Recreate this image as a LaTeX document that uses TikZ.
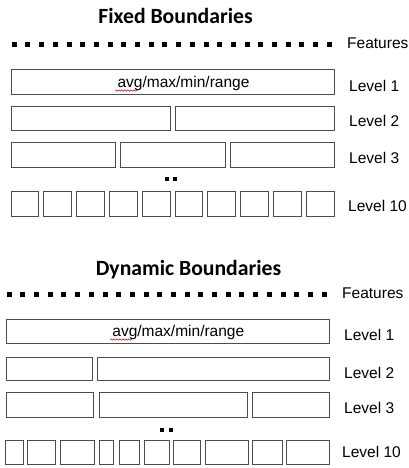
\documentclass[tikz,border=0pt]{standalone}
\usepackage{fontspec}
\setmainfont{Liberation Sans}
\newfontfamily\titlefont{Carlito}
\usetikzlibrary{decorations.pathmorphing}
\begin{document}
\begin{tikzpicture}[x=1pt,y=-1pt,
  box/.style={draw=black!70, line width=0.9pt},
  lbl/.style={anchor=base west, inner sep=0pt, font=\fontsize{15.5}{18}\selectfont},
  boxtxt/.style={anchor=base, inner sep=0pt, font=\fontsize{15.5}{18}\selectfont},
  ttl/.style={anchor=base, inner sep=0pt, font=\titlefont\bfseries\fontsize{21.7}{26}\selectfont},
  sqr/.style={fill=black},
  squig/.style={draw=red!80!black, line width=0.5pt, decorate, decoration={snake, segment length=3pt, amplitude=0.7pt}}]
\useasboundingbox (0,0) rectangle (409,468);

% ---------------- Fixed Boundaries ----------------
\node[ttl] (t1) at (175.5,24) {Fixed Boundaries};
\foreach \i in {0,...,23} \fill[sqr] ({11.7+13.7*\i},42.5) rectangle +(5,5);
\node[lbl] (f1) at (347,48.5) {Features};

\draw[box] (11,69) rectangle (334,94);
\node[boxtxt] (a1) at (183.5,87.5) {avg/max/min/range};
\draw[squig] (115,90.5) -- (137,90.5);
\node[lbl] (l11) at (349,91.5) {Level 1};

\draw[box] (11,106) rectangle (170,130);
\draw[box] (175,106) rectangle (334,130);
\node[lbl] (l12) at (349,127) {Level 2};

\draw[box] (11,142) rectangle (115,167);
\draw[box] (120,142) rectangle (225,167);
\draw[box] (230,142) rectangle (334,167);
\node[lbl] (l13) at (349,163) {Level 3};

\fill[sqr] (164.5,177) rectangle +(4,4);
\fill[sqr] (173,177) rectangle +(4,4);

\foreach \i in {0,...,9} \draw[box] ({11+32.8*\i},191) rectangle +(27.8,25);
\node[lbl] (l110) at (348,211.5) {Level 10};

% ---------------- Dynamic Boundaries ----------------
\node[ttl] (t2) at (188.5,275.5) {Dynamic Boundaries};
\foreach \i in {0,...,23} \fill[sqr] ({6.7+13.69*\i},291.5) rectangle +(5,5);
\node[lbl] (f2) at (342,298) {Features};

\draw[box] (6,319) rectangle (329,343);
\node[boxtxt] (a2) at (178.3,336.5) {avg/max/min/range};
\draw[squig] (110,339.5) -- (132,339.5);
\node[lbl] (l21) at (344,340.5) {Level 1};

\draw[box] (6,357) rectangle (92,380);
\draw[box] (97,357) rectangle (329,380);
\node[lbl] (l22) at (344,378) {Level 2};

\draw[box] (6,392) rectangle (93,417);
\draw[box] (99,392) rectangle (247,417);
\draw[box] (252,392) rectangle (329,417);
\node[lbl] (l23) at (344,413) {Level 3};

\fill[sqr] (160,427.5) rectangle +(4,4);
\fill[sqr] (168.5,427.5) rectangle +(4,4);

\foreach \a/\b in {5/23,27/55,60/94,99/113,119/139,144/169,173/200,205/248,252/282,286/329}
  \draw[box] (\a,440) rectangle (\b,464);
\node[lbl] (l210) at (342,457.5) {Level 10};
\end{tikzpicture}
\end{document}
